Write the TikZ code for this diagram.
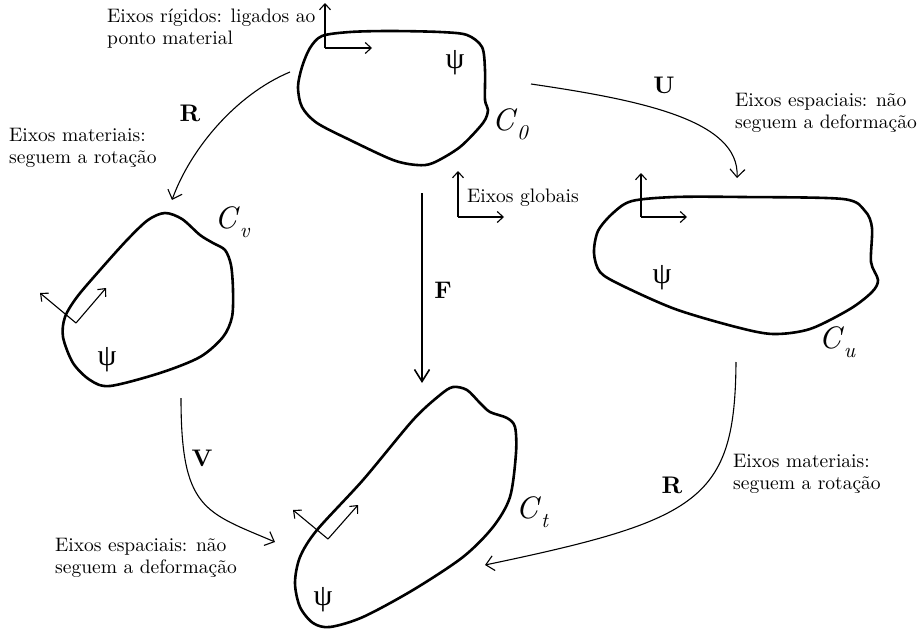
\documentclass[tikz,border=0pt]{standalone}
\usepackage{fontspec}
\setmainfont{lmroman10-regular.otf}[
  BoldFont=lmroman10-bold.otf,
  ItalicFont=lmroman10-italic.otf,
  BoldItalicFont=lmroman10-bolditalic.otf]
\newfontfamily\grk{Liberation Serif}
\usetikzlibrary{arrows.meta}
% configuration symbol C with an italic subscript, set in text mode
\newcommand{\confsym}[1]{\textit{C}\raisebox{-0.28em}{\fontsize{21}{24}\selectfont\itshape #1}}
\begin{document}
\begin{tikzpicture}[x=1pt,y=-1pt,
  blob/.style={line width=2.6pt, line join=round},
  conn/.style={line width=1.1pt, -{Straight Barb[length=8pt,width=15pt,line width=1.1pt]}},
  mainarrow/.style={line width=1.8pt, -{Straight Barb[length=12pt,width=15pt,line width=1.6pt]}},
  frame/.style={line width=1.1pt, -{Straight Barb[length=6pt,width=11pt,line width=1.1pt]}},
  note/.style={font=\fontsize{19.5}{22}\selectfont, align=left, anchor=west, inner sep=0pt},
  op/.style={font=\fontsize{24}{28}\selectfont\bfseries, inner sep=0pt},
  conf/.style={font=\fontsize{31}{36}\selectfont, inner sep=0pt},
  psi/.style={font=\fontsize{30}{36}\selectfont\grk, inner sep=0pt}]
\useasboundingbox (0,0) rectangle (922,632);

% ---- configurations ----
% C_0 (reference)
\draw[blob] plot[smooth cycle] coordinates {
  (350,32) (390,31) (440,32) (467,35) (482,47) (485,70) (485,100) (488,110)
  (483,123) (460,147) (433,163) (417,165) (393,160) (350,140) (317,123)
  (302,107) (298,87) (302,67) (310,48) (322,36)};
% C_v
\draw[blob] plot[smooth cycle] coordinates {
  (165,213) (182,219) (200,235) (213,243) (225,250) (231,265) (233,290)
  (232,317) (223,337) (200,357) (160,373) (110,386) (90,380) (73,363)
  (63,337) (65,317) (77,297) (100,270) (127,240) (148,220)};
% C_u
\draw[blob] plot[smooth cycle] coordinates {
  (675,197) (742,197) (843,199) (865,211) (872,228) (871,262) (878,280)
  (872,292) (850,309) (810,329) (773,334) (736,327) (675,309) (621,285)
  (600,272) (594,253) (598,231) (613,213) (632,201)};
% C_t
\draw[blob] plot[smooth cycle] coordinates {
  (453,387) (467,390) (480,403) (490,412) (507,418) (515,427) (516,453)
  (510,497) (493,527) (463,557) (413,590) (363,617) (330,627) (313,623)
  (300,607) (295,583) (300,557) (317,530) (363,480) (413,420) (440,395)};

% ---- labels of the configurations ----
\node[conf] (c0) at (510,124) {\confsym{0}};
\node[conf] (cv) at (232,222) {\confsym{v}};
\node[conf] (cu) at (837,342) {\confsym{u}};
\node[conf] (ct) at (532,512) {\confsym{t}};

\node[psi] (psi0) at (455,63) {ψ};
\node[psi] (psiv) at (107,360) {ψ};
\node[psi] (psiu) at (662,278) {ψ};
\node[psi] (psit) at (323,600) {ψ};

% ---- axes ----
\coordinate (o0) at (325,48);
\coordinate (o0y) at (325,3);
\coordinate (o0x) at (372,48);
\draw[frame] (o0) -- (o0y);
\draw[frame] (o0) -- (o0x);

\coordinate (og) at (458,217);
\coordinate (ogy) at (458,171);
\coordinate (ogx) at (504,217);
\draw[frame] (og) -- (ogy);
\draw[frame] (og) -- (ogx);

\coordinate (ou) at (641,217);
\coordinate (ouy) at (641,173);
\coordinate (oux) at (687,217);
\draw[frame] (ou) -- (ouy);
\draw[frame] (ou) -- (oux);

\coordinate (ov) at (76,323);
\coordinate (ova) at (106,288);
\coordinate (ovb) at (40,293);
\draw[frame] (ov) -- (ova);
\draw[frame] (ov) -- (ovb);

\coordinate (ot) at (328,539);
\coordinate (ota) at (358,505);
\coordinate (otb) at (293,510);
\draw[frame] (ot) -- (ota);
\draw[frame] (ot) -- (otb);

% ---- mappings ----
\coordinate (r1s) at (290,72);
\coordinate (r1e) at (172,200);
\draw[conn] (r1s) .. controls (235,95) and (190,150) .. (r1e);
\node[op] (r1) at (190,113) {R};

\coordinate (us) at (531,84);
\coordinate (ue) at (737,178);
\draw[conn] (us) .. controls (640,100) and (740,120) .. (ue);
\node[op] (u) at (664,85) {U};

\coordinate (fs) at (422,193);
\coordinate (fe) at (422,383);
\draw[mainarrow] (fs) -- (fe);
\node[op] (f) at (443,290) {F};

\coordinate (vs) at (181,398);
\coordinate (ve) at (275,542);
\draw[conn] (vs) .. controls (181,510) and (205,512) .. (ve);
\node[op] (v) at (202,458) {V};

\coordinate (r2s) at (736,362);
\coordinate (r2e) at (485,565);
\draw[conn] (r2s) .. controls (735,500) and (700,520) .. (r2e);
\node[op] (r2) at (672,485) {R};

% ---- notes ----
\node[note] (n1) at (107,29) {Eixos rígidos: ligados ao\\ponto material};
\node[note] (n2) at (9,148) {Eixos materiais:\\seguem a rotação};
\node[note] (n3) at (467,198) {Eixos globais};
\node[note] (n4) at (735,113) {Eixos espaciais: não\\seguem a deformação};
\node[note] (n5) at (733,474) {Eixos materiais:\\seguem a rotação};
\node[note] (n6) at (55,558) {Eixos espaciais: não\\seguem a deformação};
\end{tikzpicture}
\end{document}
